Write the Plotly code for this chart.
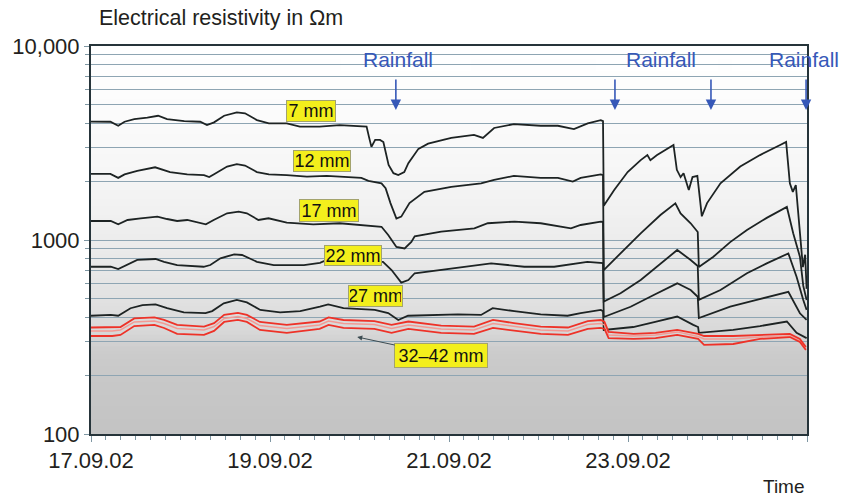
import pandas as pd
import plotly.graph_objects as go

# ---------------- DATA (hours after 17.09.02 00:00, resistivity in Ohm m) ----------------
START = "2002-09-17 00:00"

t_7mm = [0, 5.2, 7.3, 9.0, 11.6, 15.1, 18.0, 20.4, 25.0, 29.3, 31.1, 33.0, 35.7, 39.1, 41.3, 44.5,
         47.7, 52.5, 56.0, 61.3, 66.7, 73.9, 74.6, 75.2, 76.2, 77.5, 78.4, 79.8, 81.1, 82.4, 84.0,
         85.1, 87.8, 90.4, 96.6, 102.7, 105.1, 108.1, 113.4, 120.6, 125.2, 129.5, 133.2, 134.8,
         136.7, 137.3, 137.5, 140.3, 143.9, 147.4, 149.2, 150.0, 151.8, 156.2, 157.1, 158.1, 158.9,
         160.3, 161.3, 162.6, 163.8, 165.2, 168.8, 174.1, 179.4, 184.8, 186.4, 187.4, 188.2, 189.0,
         190.1, 190.9, 191.5, 191.9]
r_7mm = [4080, 4070, 3880, 4070, 4200, 4270, 4370, 4200, 4100, 4070, 3910, 4040, 4370, 4550, 4500,
         4150, 3990, 3990, 3840, 3840, 3910, 3840, 3360, 3020, 3280, 3280, 3200, 2435, 2210, 2160,
         2240, 2490, 2950, 3140, 3360, 3480, 3360, 3780, 3960, 3880, 3880, 3730, 3990, 4070, 4150,
         4100, 1500, 1810, 2240, 2580, 2740, 2580, 2740, 3090, 2300, 2110, 2210, 1810, 2110, 2140,
         1325, 1550, 1960, 2390, 2740, 3090, 3200, 1960, 1770, 1920, 1090, 725, 840, 560]

t_12mm = [0, 5.2, 7.3, 9.0, 12.4, 17.2, 21.2, 25.8, 30.3, 31.7, 33.0, 36.5, 39.1, 41.3, 44.5, 47.7,
          52.5, 57.9, 63.2, 68.5, 72.5, 74.4, 75.8, 77.9, 79.0, 80.3, 81.9, 83.2, 85.4, 89.4, 96.6,
          104.6, 108.1, 113.4, 120.6, 125.2, 129.2, 131.3, 136.7, 137.3, 137.5, 142.0, 147.4, 152.7,
          156.7, 158.1, 160.8, 162.7, 163.0, 166.9, 171.4, 175.9, 181.2, 186.6, 188.3, 190.1, 191.0,
          191.9]
r_12mm = [2190, 2190, 2090, 2180, 2270, 2370, 2240, 2180, 2160, 2110, 2180, 2390, 2460, 2420, 2240,
          2180, 2160, 2120, 2140, 2120, 2090, 2020, 1990, 1960, 1850, 1550, 1290, 1320, 1550, 1770,
          1880, 1960, 2040, 2140, 2090, 2090, 2000, 2090, 2180, 2160, 700, 853, 1083, 1345, 1546,
          1370, 1220, 1100, 725, 820, 975, 1126, 1300, 1480, 1083, 820, 580, 490]

t_17mm = [0, 5.3, 7.3, 9.8, 13.3, 17.8, 20.4, 23.1, 25.8, 30.8, 32.9, 36.5, 39.6, 41.8, 44.9, 47.6,
          52.5, 59.6, 66.7, 77.9, 79.7, 81.9, 84.1, 85.9, 86.8, 93.9, 102.8, 106.4, 113.6, 120.6,
          128.7, 131.3, 136.7, 137.3, 137.5, 142.0, 147.4, 152.7, 157.2, 160.8, 162.7, 163.0, 168.8,
          175.9, 181.2, 187.0, 189.2, 191.0, 191.9]
r_17mm = [1253, 1253, 1205, 1268, 1294, 1320, 1283, 1253, 1268, 1205, 1268, 1373, 1400, 1373, 1268,
          1294, 1230, 1205, 1220, 1170, 1061, 921, 905, 977, 1044, 1104, 1147, 1220, 1244, 1220,
          1147, 1195, 1244, 1240, 481, 531, 622, 758, 888, 789, 735, 491, 552, 674, 758, 853, 647,
          491, 436]

t_22mm = [0, 5.3, 7.3, 9.8, 12.4, 17.3, 19.6, 23.1, 30.2, 32.0, 34.7, 38.4, 40.5, 44.5, 49.0, 57.1,
          61.4, 63.2, 70.0, 78.3, 80.6, 83.2, 85.1, 86.8, 93.9, 107.3, 116.2, 124.2, 133.1, 136.7,
          137.3, 137.5, 144.7, 150.9, 157.2, 160.8, 162.7, 163.0, 171.4, 178.5, 187.0, 190.1, 191.9]
r_22mm = [728, 728, 708, 749, 789, 798, 772, 743, 728, 743, 805, 844, 837, 772, 743, 743, 763, 789,
          775, 772, 700, 603, 622, 674, 700, 758, 728, 728, 772, 763, 760, 401, 453, 521, 598, 552,
          510, 396, 453, 491, 541, 419, 387]

t_27mm = [0, 5.3, 7.3, 10.6, 13.8, 17.3, 20.4, 24.9, 30.7, 32.5, 35.6, 39.1, 41.8, 45.4, 50.7, 56.1,
          61.4, 63.6, 67.7, 76.1, 79.7, 82.4, 85.0, 92.1, 98.4, 104.6, 107.7, 113.5, 120.6, 127.8,
          131.3, 136.7, 137.3, 137.5, 145.4, 151.3, 157.2, 161.5, 162.8, 163.0, 172.2, 179.4, 186.6,
          189.2, 191.9]
r_27mm = [407, 411, 407, 445, 462, 466, 445, 424, 420, 430, 472, 491, 477, 436, 424, 430, 453, 466,
          445, 436, 420, 387, 407, 411, 414, 411, 445, 430, 414, 407, 420, 436, 430, 344, 356, 378,
          403, 365, 356, 332, 344, 360, 380, 332, 312]

t_deep = [0, 5.7, 7.9, 11.6, 17.0, 19.6, 23.1, 30.3, 33.0, 35.7, 39.4, 41.8, 45.3, 52.5, 61.3, 63.7,
          67.7, 76.0, 80.6, 85.1, 93.9, 102.7, 107.8, 113.4, 120.6, 127.9, 133.2, 136.7, 137.7,
          138.8, 145.5, 151.4, 157.2, 162.8, 164.4, 172.2, 179.4, 187.4, 190.1, 191.7]
r_32mm = [354, 354, 356, 394, 399, 387, 365, 358, 373, 411, 421, 411, 378, 365, 380, 399, 387, 382,
          365, 380, 362, 358, 387, 373, 358, 354, 382, 387, 378, 336, 328, 332, 344, 328, 320, 320,
          324, 328, 309, 281]
r_37mm = [340, 340, 344, 378, 382, 371, 350, 344, 358, 394, 403, 394, 362, 350, 365, 382, 371, 367,
          350, 365, 348, 344, 371, 358, 344, 340, 367, 371, 365, 324, 320, 324, 336, 318, 309, 309,
          316, 320, 302, 274]
r_42mm = [320, 320, 324, 360, 365, 352, 328, 324, 340, 378, 387, 378, 344, 332, 348, 365, 352, 348,
          332, 348, 332, 328, 352, 340, 328, 324, 348, 352, 348, 312, 309, 312, 324, 309, 288, 291,
          309, 316, 298, 271]

depth_labels = ["7 mm", "12 mm", "17 mm", "22 mm", "27 mm", "32–42 mm"]
rainfall_times = ["2002-09-20 09:45", "2002-09-22 20:30", "2002-09-23 22:15", "2002-09-24 23:45"]
date_ticks = ["2002-09-17", "2002-09-19", "2002-09-21", "2002-09-23", "2002-09-25"]
date_tick_text = ["17.09.02", "19.09.02", "21.09.02", "23.09.02", "25.09.02"]
y_ticks = [100, 1000, 10000]
y_tick_text = ["100", "1000", "10,000"]
y_minor = [200, 300, 400, 500, 600, 700, 800, 900, 2000, 3000, 4000, 5000, 6000, 7000, 8000, 9000]


# ---------------- FIGURE ----------------
T0 = pd.Timestamp(START)


def times(hours):
    return [T0 + pd.Timedelta(hours=h) for h in hours]


W, H = 845, 498
L, R, T, B = 89, 38, 46, 64
PW, PH = W - L - R, H - T - B


def px(x):
    return (x - L) / PW


def py(y):
    return (H - B - y) / PH


fig = go.Figure()

BLACK = "#1d2323"
for tt, rr in [(t_7mm, r_7mm), (t_12mm, r_12mm), (t_17mm, r_17mm), (t_22mm, r_22mm), (t_27mm, r_27mm)]:
    fig.add_trace(go.Scatter(x=times(tt), y=rr, mode="lines",
                             line=dict(color=BLACK, width=1.8), hoverinfo="skip"))

for rr, col, wd in [(r_37mm, "#f39a94", 1.5), (r_32mm, "#ee3228", 1.8), (r_42mm, "#ee3228", 1.8)]:
    fig.add_trace(go.Scatter(x=times(t_deep), y=rr, mode="lines",
                             line=dict(color=col, width=wd), hoverinfo="skip"))

# background gradient (white at top -> grey at bottom)
stops = [(434, 195), (400, 198), (376, 200), (350, 204), (340, 210), (330, 216), (300, 225),
         (270, 231), (230, 238), (180, 245), (130, 250), (90, 253), (46, 255)]


def grey_at(y):
    for (y1, g1), (y2, g2) in zip(stops[:-1], stops[1:]):
        if y2 <= y <= y1:
            f = (y1 - y) / (y1 - y2)
            return g1 + (g2 - g1) * f
    return 255


shapes = []
step = 4
y = H - B
while y > T:
    y_top = max(T, y - step)
    g = int(round(grey_at((y + y_top) / 2)))
    shapes.append(dict(type="rect", xref="paper", yref="paper", x0=0, x1=1,
                       y0=py(y) - 0.001, y1=py(y_top) + 0.001, fillcolor=f"rgb({g},{g},{g})",
                       line=dict(width=0), layer="below"))
    y = y_top

# white boxes behind the "Rainfall" captions (hide grid lines)
for x0, x1 in [(340, 470), (595, 718), (732, 806)]:
    shapes.append(dict(type="rect", xref="paper", yref="paper", x0=px(x0), x1=px(x1),
                       y0=py(71), y1=py(48), fillcolor="white", line=dict(width=0),
                       layer="between"))

annotations = []
TXT = "#231f20"
annotations.append(dict(text="Electrical resistivity in Ωm", xref="paper", yref="paper",
                        x=px(95), y=py(18), xanchor="left", yanchor="middle", showarrow=False,
                        font=dict(size=21.5, color=TXT)))
annotations.append(dict(text="Time", xref="paper", yref="paper", x=px(784), y=py(486),
                        xanchor="center", yanchor="middle", showarrow=False,
                        font=dict(size=19, color=TXT)))

YEL = "#f3ef1c"
label_boxes = [(310, 111.5, 50, 22), (321, 161, 58, 22), (328, 210, 60, 23),
               (352, 255.5, 58, 21), (374, 295.5, 55, 22)]
for lab, (cx, cy, bw, bh) in zip(depth_labels[:5], label_boxes):
    annotations.append(dict(text=lab, xref="paper", yref="paper", x=px(cx), y=py(cy),
                            xanchor="center", yanchor="middle", showarrow=False,
                            bgcolor=YEL, bordercolor="#a3a36e", borderwidth=1, borderpad=1,
                            width=bw - 4, height=bh - 4, font=dict(size=18, color="#111")))
# 32-42 mm label with pointer
annotations.append(dict(text=depth_labels[5], xref="paper", yref="paper", x=px(356), y=py(337),
                        ax=84, ay=18, showarrow=True, arrowhead=2, arrowsize=1, arrowwidth=1,
                        arrowcolor="#3c4c52", bgcolor=YEL, bordercolor="#a3a36e", borderwidth=1,
                        borderpad=1, width=90, height=21, font=dict(size=18, color="#111")))

BLUE = "#3658b8"
for cx in [397, 661, 804]:
    annotations.append(dict(text="Rainfall", xref="paper", yref="paper", x=px(cx), y=py(60),
                            xanchor="center", yanchor="middle", showarrow=False,
                            font=dict(size=21, color=BLUE)))
for tr in rainfall_times:
    annotations.append(dict(text="", x=tr, xref="x", y=py(110), yref="paper", ax=0, ay=-32,
                            showarrow=True, arrowhead=2, arrowsize=1.3, arrowwidth=1.6,
                            arrowcolor=BLUE))

GRID = "#8ea5b3"
AX = "#26343a"
TICK = "#7f97a3"
fig.update_layout(
    width=W, height=H, margin=dict(l=L, r=R, t=T, b=B),
    paper_bgcolor="white", plot_bgcolor="rgba(0,0,0,0)", showlegend=False,
    font=dict(family="Liberation Sans, Arial, sans-serif", color=TXT),
    shapes=shapes, annotations=annotations,
    xaxis=dict(type="date", range=[date_ticks[0], date_ticks[-1]], tickmode="array",
               tickvals=date_ticks, ticktext=date_tick_text, showgrid=False, zeroline=False,
               showline=True, linecolor=AX, linewidth=2, mirror=True,
               ticks="outside", ticklen=6, tickwidth=1, tickcolor=TICK,
               tickfont=dict(size=22, color=TXT),
               minor=dict(tick0=date_ticks[0], dtick=4 * 3600 * 1000, ticks="outside",
                          ticklen=4, tickwidth=1, tickcolor=TICK, showgrid=False)),
    yaxis=dict(type="log", range=[2, 4], tickmode="array", tickvals=y_ticks,
               ticktext=y_tick_text, showgrid=True, gridcolor=GRID, gridwidth=1.3,
               zeroline=False, showline=True, linecolor=AX, linewidth=2, mirror=True,
               ticks="outside", ticklen=5, tickwidth=1, tickcolor=TICK,
               tickfont=dict(size=22, color=TXT),
               minor=dict(tickmode="array", tickvals=y_minor, ticks="outside", ticklen=4,
                          tickwidth=1, tickcolor=TICK, showgrid=True, gridcolor=GRID,
                          gridwidth=1.3)),
)

fig.write_html("out.html")
